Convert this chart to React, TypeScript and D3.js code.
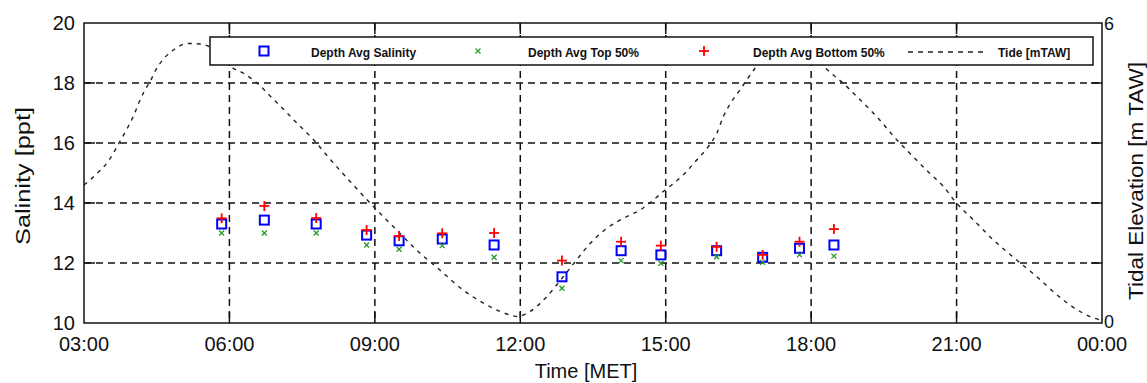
import React from "react";
import * as d3 from "d3";

// ---- data ----
const sampleTimes = [5.84, 6.72, 7.79, 8.83, 9.5, 10.39, 11.46, 12.86, 14.08, 14.9, 16.05, 17.0, 17.76, 18.47];
const depthAvgSalinity = [13.3, 13.43, 13.3, 12.93, 12.74, 12.8, 12.6, 11.54, 12.41, 12.27, 12.41, 12.19, 12.49, 12.6];
const depthAvgTop50 = [13.0, 13.0, 13.0, 12.6, 12.46, 12.58, 12.19, 11.16, 12.08, 11.99, 12.21, 12.02, 12.27, 12.23];
const depthAvgBottom50 = [13.49, 13.9, 13.5, 13.1, 12.9, 12.99, 13.0, 12.08, 12.71, 12.58, 12.54, 12.27, 12.71, 13.13];

const tideTimes = [
  3.0, 3.27, 3.52, 3.74, 3.89, 4.03, 4.13, 4.24, 4.38, 4.48, 4.65, 4.86, 5.13, 5.41, 5.58, 5.81,
  6.03, 6.3, 6.58, 6.85, 7.13, 7.4, 7.74, 8.09, 8.49, 8.97, 9.45, 9.86, 10.34, 10.82, 11.31, 11.79,
  11.93, 12.2, 12.55, 12.89, 13.16, 13.44, 13.78, 14.2, 14.47, 14.71, 14.95, 15.16, 15.43, 15.64,
  15.88, 16.05, 16.19, 16.36, 16.53, 16.67, 16.84, 17.15, 17.56, 17.98, 18.42, 18.7, 18.94, 19.35,
  19.77, 20.04, 20.45, 20.73, 20.97, 21.35, 21.76, 22.24, 22.65, 23.2, 23.75, 24.0,
];
const tideLevels = [
  2.76, 2.99, 3.26, 3.63, 3.89, 4.16, 4.4, 4.63, 4.86, 5.06, 5.29, 5.47, 5.59, 5.58, 5.53, 5.4,
  5.13, 4.99, 4.79, 4.53, 4.26, 3.99, 3.66, 3.26, 2.83, 2.33, 1.86, 1.46, 1.06, 0.66, 0.36, 0.16,
  0.13, 0.23, 0.53, 0.93, 1.26, 1.59, 1.89, 2.13, 2.26, 2.43, 2.63, 2.79, 3.03, 3.26,
  3.53, 3.79, 4.13, 4.43, 4.66, 4.86, 5.09, 5.4, 5.55, 5.35, 4.99, 4.76, 4.53, 4.13,
  3.66, 3.39, 2.99, 2.73, 2.43, 2.06, 1.66, 1.26, 0.93, 0.46, 0.13, 0.05,
];

const xTicks = [3, 6, 9, 12, 15, 18, 21, 24];
const xTickLabels = ["03:00", "06:00", "09:00", "12:00", "15:00", "18:00", "21:00", "00:00"];
const yTicks = [10, 12, 14, 16, 18, 20];
const y2Ticks = [0, 6];

const legendLabels = ["Depth Avg Salinity", "Depth Avg Top 50%", "Depth Avg Bottom 50%", "Tide [mTAW]"];

const FONT = "'Liberation Sans', Arial, Helvetica, sans-serif";

export default function App() {
  const W = 1147;
  const H = 383;
  const L = 84, R = 1102, T = 23, B = 323;

  const x = d3.scaleLinear().domain([3, 24]).range([L, R]);
  const y = d3.scaleLinear().domain([10, 20]).range([B, T]);
  const y2 = d3.scaleLinear().domain([0, 6]).range([B, T]);

  const tidePts = tideTimes.map((t, i) => [t, tideLevels[i]] as [number, number]);
  const tidePath = d3
    .line<[number, number]>()
    .x((d) => x(d[0]))
    .y((d) => y2(d[1]))
    .curve(d3.curveMonotoneX)(tidePts) as string;

  const gridStyle = { stroke: "#111", strokeWidth: 1.5, strokeDasharray: "7,5" };
  const tickLen = 11;

  return (
    <svg
      width={W}
      height={H}
      style={{ position: "absolute", left: 0, top: 0, background: "#fff" }}
      fontFamily={FONT}
    >
      <rect x={0} y={0} width={W} height={H} fill="#fff" />

      {/* grid */}
      {xTicks.slice(1, -1).map((t) => (
        <line key={"gx" + t} x1={x(t)} x2={x(t)} y1={T} y2={B} {...gridStyle} />
      ))}
      {yTicks.slice(1, -1).map((v) => (
        <line key={"gy" + v} x1={L} x2={R} y1={y(v)} y2={y(v)} {...gridStyle} />
      ))}

      {/* ticks */}
      {xTicks.slice(1, -1).map((t) => (
        <g key={"tx" + t} stroke="#111" strokeWidth={1.5}>
          <line x1={x(t)} x2={x(t)} y1={B} y2={B - tickLen} />
          <line x1={x(t)} x2={x(t)} y1={T} y2={T + tickLen} />
        </g>
      ))}
      {yTicks.slice(1, -1).map((v) => (
        <g key={"ty" + v} stroke="#111" strokeWidth={1.5}>
          <line x1={L} x2={L + tickLen} y1={y(v)} y2={y(v)} />
          <line x1={R} x2={R - tickLen} y1={y(v)} y2={y(v)} />
        </g>
      ))}

      {/* tide */}
      <path d={tidePath} fill="none" stroke="#222" strokeWidth={1.4} strokeDasharray="4,5" />

      {/* markers */}
      {sampleTimes.map((t, i) => (
        <rect
          key={"s" + i}
          x={x(t) - 4.5}
          y={y(depthAvgSalinity[i]) - 4.5}
          width={9}
          height={9}
          fill="none"
          stroke="#0000ff"
          strokeWidth={2}
        />
      ))}
      {sampleTimes.map((t, i) => {
        const cx = x(t), cy = y(depthAvgTop50[i]);
        return (
          <g key={"t" + i} stroke="#2a9a2a" strokeWidth={1.3}>
            <line x1={cx - 2.5} x2={cx + 2.5} y1={cy - 2.5} y2={cy + 2.5} />
            <line x1={cx - 2.5} x2={cx + 2.5} y1={cy + 2.5} y2={cy - 2.5} />
          </g>
        );
      })}
      {sampleTimes.map((t, i) => {
        const cx = x(t), cy = y(depthAvgBottom50[i]);
        return (
          <g key={"b" + i} stroke="#ff0000" strokeWidth={1.8}>
            <line x1={cx - 5} x2={cx + 5} y1={cy} y2={cy} />
            <line x1={cx} x2={cx} y1={cy - 5} y2={cy + 5} />
          </g>
        );
      })}

      {/* frame */}
      <rect x={L} y={T} width={R - L} height={B - T} fill="none" stroke="#111" strokeWidth={1.5} />

      {/* tick labels */}
      {yTicks.map((v) => (
        <text key={"ly" + v} x={75} y={y(v) + 7} textAnchor="end" fontSize={20} fill="#111">
          {v}
        </text>
      ))}
      {y2Ticks.map((v) => (
        <text key={"ly2" + v} x={1104} y={y2(v) + (v === 0 ? 5 : 7)} textAnchor="start" fontSize={18} fill="#111">
          {v}
        </text>
      ))}
      {xTicks.map((t, i) => (
        <text key={"lx" + t} x={x(t)} y={351} textAnchor="middle" fontSize={20} fill="#111">
          {xTickLabels[i]}
        </text>
      ))}

      {/* axis titles */}
      <text x={586} y={378} textAnchor="middle" fontSize={20} fill="#111">
        Time [MET]
      </text>
      <text
        transform="translate(30,176) rotate(-90)"
        textAnchor="middle"
        fontSize={21}
        fill="#111"
        textLength={138}
        lengthAdjust="spacingAndGlyphs"
      >
        Salinity [ppt]
      </text>
      <text
        transform="translate(1143,181) rotate(-90)"
        textAnchor="middle"
        fontSize={20}
        fill="#111"
        textLength={238}
        lengthAdjust="spacingAndGlyphs"
      >
        Tidal Elevation [m TAW]
      </text>

      {/* legend */}
      <g>
        <rect x={210} y={37} width={883} height={28} fill="#fff" stroke="#111" strokeWidth={1.5} />
        <rect x={264 - 4.5} y={51 - 4.5} width={9} height={9} fill="none" stroke="#0000ff" strokeWidth={2} />
        <g stroke="#2a9a2a" strokeWidth={1.3}>
          <line x1={478 - 2.5} x2={478 + 2.5} y1={51 - 2.5} y2={51 + 2.5} />
          <line x1={478 - 2.5} x2={478 + 2.5} y1={51 + 2.5} y2={51 - 2.5} />
        </g>
        <g stroke="#ff0000" strokeWidth={1.8}>
          <line x1={704 - 5} x2={704 + 5} y1={51} y2={51} />
          <line x1={704} x2={704} y1={46} y2={56} />
        </g>
        <line x1={908} x2={983} y1={52} y2={52} stroke="#222" strokeWidth={1.3} strokeDasharray="5,5" />
        {[311, 528, 753, 998].map((lx, i) => (
          <text key={"lg" + i} x={lx} y={57} fontSize={12} fontWeight="bold" fill="#111">
            {legendLabels[i]}
          </text>
        ))}
      </g>
    </svg>
  );
}
